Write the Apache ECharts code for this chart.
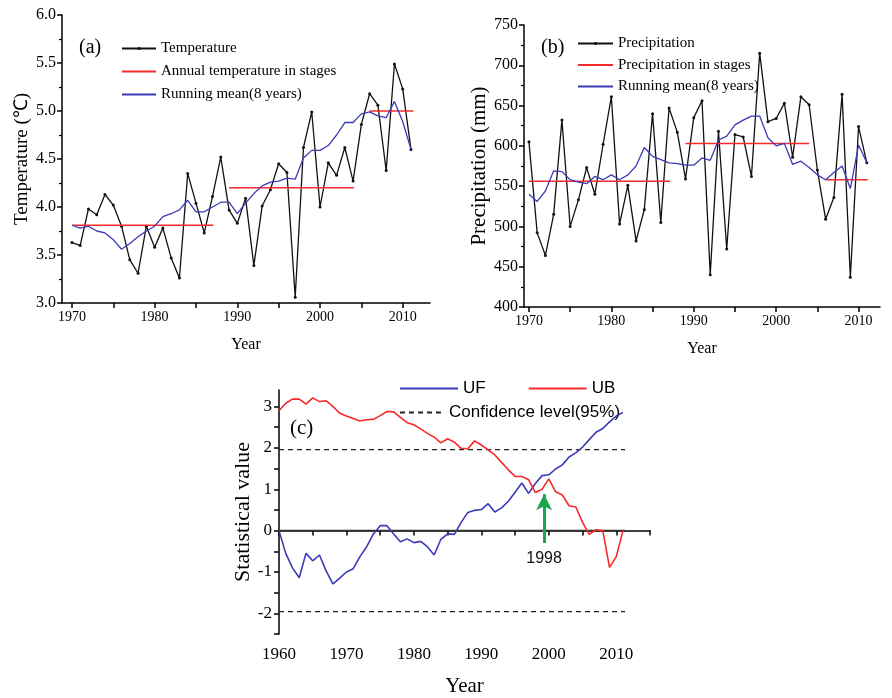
<!DOCTYPE html>
<html>
<head>
<meta charset="UTF-8">
<title>Temperature, precipitation and M-K test</title>
<script src="https://cdn.jsdelivr.net/npm/echarts@6/dist/echarts.min.js"></script>
<style>
  html, body { margin: 0; padding: 0; background: #fff; }
  #main { width: 892px; height: 698px; }
</style>
</head>
<body>
<div id="main"></div>
<script>
// ---- (a) temperature ----
var yearsA = [];
for (var y = 1970; y <= 2011; y++) yearsA.push(y);
var temperature = [3.63, 3.60, 3.98, 3.92, 4.13, 4.02, 3.80, 3.45, 3.31, 3.80,
                   3.58, 3.78, 3.47, 3.26, 4.35, 4.04, 3.73, 4.11, 4.52, 3.97,
                   3.83, 4.09, 3.39, 4.01, 4.18, 4.45, 4.36, 3.06, 4.62, 4.99,
                   4.00, 4.46, 4.33, 4.62, 4.27, 4.86, 5.18, 5.06, 4.38, 5.49, 5.23, 4.60];
var tempMean = [3.81, 3.78, 3.80, 3.75, 3.73, 3.66, 3.56, 3.62, 3.69, 3.75,
                3.80, 3.90, 3.93, 3.97, 4.07, 3.95, 3.95, 4.00, 4.05, 4.05,
                3.93, 4.04, 4.14, 4.22, 4.26, 4.27, 4.30, 4.29, 4.51, 4.59,
                4.59, 4.64, 4.75, 4.88, 4.88, 4.97, 4.99, 4.95, 4.93, 5.10, 4.89, 4.60];
// stage: [start year, end year, level]
var tempStages = [[1970, 1987.1, 3.81], [1989, 2004.1, 4.20], [2006, 2011.3, 5.00]];

// ---- (b) precipitation ----
var precipitation = [605, 492, 464, 515, 632, 500, 533, 573, 540, 602,
                     661, 503, 551, 482, 521, 640, 505, 647, 617, 559,
                     635, 656, 440, 618, 472, 614, 611, 562, 715, 630,
                     634, 653, 586, 661, 651, 570, 509, 536, 664, 437, 624, 579];
var precipMean = [540, 531, 544, 569, 568, 558, 555, 553, 562, 558,
                  564, 558, 564, 575, 598, 587, 583, 579, 578, 576,
                  576, 585, 582, 607, 612, 626, 632, 637, 637, 610,
                  600, 603, 577, 581, 573, 564, 558, 567, 575, 547, 601, 579];
var precipStages = [[1970, 1987.1, 556], [1989, 2004, 603], [2006, 2011.1, 558]];

// ---- (c) Mann-Kendall ----
var yearsC = [];
for (var y2 = 1960; y2 <= 2011; y2++) yearsC.push(y2);
var UF = [0, -0.55, -0.90, -1.14, -0.55, -0.73, -0.59, -0.98, -1.29, -1.15,
          -1.00, -0.92, -0.63, -0.39, -0.08, 0.12, 0.12, -0.08, -0.27, -0.20,
          -0.29, -0.26, -0.39, -0.59, -0.21, -0.08, -0.09, 0.20, 0.44, 0.49,
          0.51, 0.65, 0.45, 0.55, 0.71, 0.93, 1.15, 0.90, 1.14, 1.33,
          1.35, 1.49, 1.59, 1.78, 1.88, 2.02, 2.20, 2.38, 2.47, 2.63, 2.77, 2.86];
var UB = [2.90, 3.08, 3.18, 3.18, 3.06, 3.21, 3.12, 3.14, 3.00, 2.84,
          2.77, 2.71, 2.65, 2.68, 2.69, 2.78, 2.88, 2.87, 2.74, 2.61,
          2.56, 2.46, 2.35, 2.26, 2.12, 2.22, 2.14, 1.99, 1.98, 2.17,
          2.07, 1.95, 1.83, 1.65, 1.47, 1.31, 1.31, 1.23, 0.92, 1.00,
          1.25, 0.94, 0.86, 0.60, 0.57, 0.20, -0.09, 0.02, 0.00, -0.89, -0.63, 0.00];
var confLevel = 1.96;
var confRange = [1960, 2011.3];
var changeYear = 1999.3;      // where the arrow stands
var changeLabel = '1998';

var serif = 'Liberation Serif';
var sans = 'Liberation Sans';
var RED = '#f52a2a', BLUE = '#3b3bb8';
var noDot = { opacity: 0 };

function pairs(xs, ys) { return xs.map(function (x, i) { return [x, ys[i]]; }); }
function yearFmt(v) { return String(v); }

function xAxisFor(grid, min, max, ticks, labels, fs, margin, nameGap, nameFs) {
  return {
    gridIndex: grid, type: 'value', min: min, max: max,
    axisLine: { lineStyle: { color: '#000', width: 1.5 } },
    axisTick: { customValues: ticks, length: 5, lineStyle: { color: '#000', width: 1.5 } },
    axisLabel: { customValues: labels, formatter: yearFmt, color: '#000',
                 fontFamily: serif, fontSize: fs, margin: margin },
    splitLine: { show: false },
    name: 'Year', nameLocation: 'middle', nameGap: nameGap,
    nameTextStyle: { color: '#000', fontFamily: serif, fontSize: nameFs }
  };
}

var stageSeries = function (name, stages, xi, yi) {
  return stages.map(function (s) {
    return {
      name: name, type: 'line', xAxisIndex: xi, yAxisIndex: yi,
      data: [[s[0], s[2]], [s[1], s[2]]], symbol: 'none',
      lineStyle: { color: RED, width: 1.6 }, itemStyle: { color: RED }, z: 3
    };
  });
};

var chart = echarts.init(document.getElementById('main'));
var option = {
  backgroundColor: '#fff',
  animation: false,
  title: [
    { text: '(a)', left: 74, top: 33, textStyle: { fontFamily: serif, fontSize: 20, fontWeight: 'normal', color: '#000' } },
    { text: '(b)', left: 536, top: 33, textStyle: { fontFamily: serif, fontSize: 20, fontWeight: 'normal', color: '#000' } },
    { text: '(c)', left: 285, top: 413, textStyle: { fontFamily: serif, fontSize: 21, fontWeight: 'normal', color: '#000' } }
  ],
  legend: [
    { data: ['Temperature',
             { name: 'Annual temperature in stages', itemStyle: noDot },
             { name: 'Running mean(8 years)', itemStyle: noDot }],
      orient: 'vertical', left: 116, top: 36, itemWidth: 34, itemHeight: 4, itemGap: 8,
      textStyle: { fontFamily: serif, fontSize: 15, color: '#000' } },
    { data: ['Precipitation',
             { name: 'Precipitation in stages', itemStyle: noDot },
             { name: 'Running mean (8 years)', itemStyle: noDot }],
      orient: 'vertical', left: 572, top: 31, itemWidth: 35, itemHeight: 4, itemGap: 6.5,
      textStyle: { fontFamily: serif, fontSize: 15, color: '#000' },
      formatter: function (n) { return n === 'Running mean (8 years)' ? 'Running mean(8 years)' : n; } },
    { data: [{ name: 'UF', itemStyle: noDot }, { name: 'UB', itemStyle: noDot }],
      orient: 'horizontal', left: 394, top: 375, itemWidth: 58, itemHeight: 10, itemGap: 42,
      textStyle: { fontFamily: sans, fontSize: 17, color: '#000' } },
    { data: [{ name: 'Confidence level(95%)', itemStyle: noDot }], left: 394, top: 399, itemWidth: 44, itemHeight: 10,
      textStyle: { fontFamily: sans, fontSize: 17, color: '#000' } }
  ],
  grid: [
    { left: 62, top: 15, width: 368, height: 288 },
    { left: 524, top: 25, width: 356, height: 282 },
    { left: 279, top: 390, width: 371, height: 250 }
  ],
  xAxis: [
    xAxisFor(0, 1968.8, 2013.3, [1970, 1975, 1980, 1985, 1990, 1995, 2000, 2005, 2010],
             [1970, 1980, 1990, 2000, 2010], 14, 7, 34, 16),
    xAxisFor(1, 1969.4, 2012.6, [1970, 1975, 1980, 1985, 1990, 1995, 2000, 2005, 2010],
             [1970, 1980, 1990, 2000, 2010], 14, 7, 34, 16),
    xAxisFor(2, 1960, 2015, [1960, 1965, 1970, 1975, 1980, 1985, 1990, 1995, 2000, 2005, 2010, 2015],
             [1960, 1970, 1980, 1990, 2000, 2010], 17, 12, 42, 21)
  ],
  yAxis: [
    { gridIndex: 0, type: 'value', min: 3, max: 6, interval: 0.5,
      axisLine: { show: true, lineStyle: { color: '#000', width: 1.5 } },
      axisTick: { show: true, length: 5, lineStyle: { color: '#000', width: 1.5 } },
      minorTick: { show: true, splitNumber: 2, length: 3, lineStyle: { color: '#000', width: 1.2 } },
      axisLabel: { formatter: function (v) { return v.toFixed(1); }, color: '#000', fontFamily: serif, fontSize: 16, margin: 6 },
      splitLine: { show: false },
      name: 'Temperature (\u2103)', nameLocation: 'middle', nameGap: 30, nameRotate: 90,
      nameTextStyle: { color: '#000', fontFamily: serif, fontSize: 19 } },
    { gridIndex: 1, type: 'value', min: 400, max: 750, interval: 50,
      axisLine: { show: true, lineStyle: { color: '#000', width: 1.5 } },
      axisTick: { show: true, length: 5, lineStyle: { color: '#000', width: 1.5 } },
      minorTick: { show: true, splitNumber: 2, length: 3, lineStyle: { color: '#000', width: 1.2 } },
      axisLabel: { color: '#000', fontFamily: serif, fontSize: 16, margin: 6 },
      splitLine: { show: false },
      name: 'Precipitation (mm)', nameLocation: 'middle', nameGap: 26, nameRotate: 90,
      nameTextStyle: { color: '#000', fontFamily: serif, fontSize: 21 } },
    { gridIndex: 2, type: 'value', min: -2.5, max: 3.4,
      axisLine: { show: true, lineStyle: { color: '#000', width: 1.5 } },
      axisTick: { show: true, length: 5, customValues: [-2.5, -2, -1.5, -1, -0.5, 0, 0.5, 1, 1.5, 2, 2.5, 3],
                  lineStyle: { color: '#000', width: 1.5 } },
      axisLabel: { customValues: [-2, -1, 0, 1, 2, 3], color: '#000', fontFamily: serif, fontSize: 17, margin: 7 },
      splitLine: { show: false },
      name: 'Statistical value', nameLocation: 'middle', nameGap: 25, nameRotate: 90,
      nameTextStyle: { color: '#000', fontFamily: serif, fontSize: 22 } }
  ],
  series: [].concat(
    [{ name: 'Temperature', type: 'line', xAxisIndex: 0, yAxisIndex: 0, data: pairs(yearsA, temperature),
       symbol: 'circle', symbolSize: 3, lineStyle: { color: '#111', width: 1.3 }, itemStyle: { color: '#111' }, z: 2 },
     { name: 'Running mean(8 years)', type: 'line', xAxisIndex: 0, yAxisIndex: 0, data: pairs(yearsA, tempMean),
       symbol: 'none', lineStyle: { color: BLUE, width: 1.3 }, itemStyle: { color: BLUE }, z: 4 }],
    stageSeries('Annual temperature in stages', tempStages, 0, 0),
    [{ name: 'Precipitation', type: 'line', xAxisIndex: 1, yAxisIndex: 1, data: pairs(yearsA, precipitation),
       symbol: 'circle', symbolSize: 3, lineStyle: { color: '#111', width: 1.3 }, itemStyle: { color: '#111' }, z: 2 },
     { name: 'Running mean (8 years)', type: 'line', xAxisIndex: 1, yAxisIndex: 1, data: pairs(yearsA, precipMean),
       symbol: 'none', lineStyle: { color: BLUE, width: 1.3 }, itemStyle: { color: BLUE }, z: 4 }],
    stageSeries('Precipitation in stages', precipStages, 1, 1),
    [{ name: 'UF', type: 'line', xAxisIndex: 2, yAxisIndex: 2, data: pairs(yearsC, UF),
       symbol: 'none', lineStyle: { color: BLUE, width: 1.6 }, itemStyle: { color: BLUE }, z: 4 },
     { name: 'UB', type: 'line', xAxisIndex: 2, yAxisIndex: 2, data: pairs(yearsC, UB),
       symbol: 'none', lineStyle: { color: RED, width: 1.6 }, itemStyle: { color: RED }, z: 4 },
     { name: 'Confidence level(95%)', type: 'line', xAxisIndex: 2, yAxisIndex: 2,
       data: [[confRange[0], confLevel], [confRange[1], confLevel]],
       symbol: 'none', lineStyle: { color: '#222', width: 1.3, type: [5, 4] }, itemStyle: { color: '#222' } },
     { name: 'Confidence level(95%)', type: 'line', xAxisIndex: 2, yAxisIndex: 2,
       data: [[confRange[0], -confLevel], [confRange[1], -confLevel]],
       symbol: 'none', lineStyle: { color: '#222', width: 1.3, type: [5, 4] }, itemStyle: { color: '#222' } },
     { name: 'zero', type: 'line', xAxisIndex: 2, yAxisIndex: 2,
       data: [[confRange[0], 0], [confRange[1], 0]],
       symbol: 'none', lineStyle: { color: '#333', width: 1.5 }, itemStyle: { color: '#333' }, z: 3,
       markLine: {
         silent: true, animation: false,
         lineStyle: { color: '#1aa64a', width: 3, type: 'solid' },
         label: { show: true, position: 'start', formatter: changeLabel, color: '#111',
                  fontFamily: sans, fontSize: 16, distance: 8 },
         data: [[{ coord: [changeYear, -0.3], symbol: 'none' },
                 { coord: [changeYear, 0.88], symbol: 'arrow', symbolSize: [12, 16] }]]
       } }]
  )
};
chart.setOption(option);
</script>
</body>
</html>
